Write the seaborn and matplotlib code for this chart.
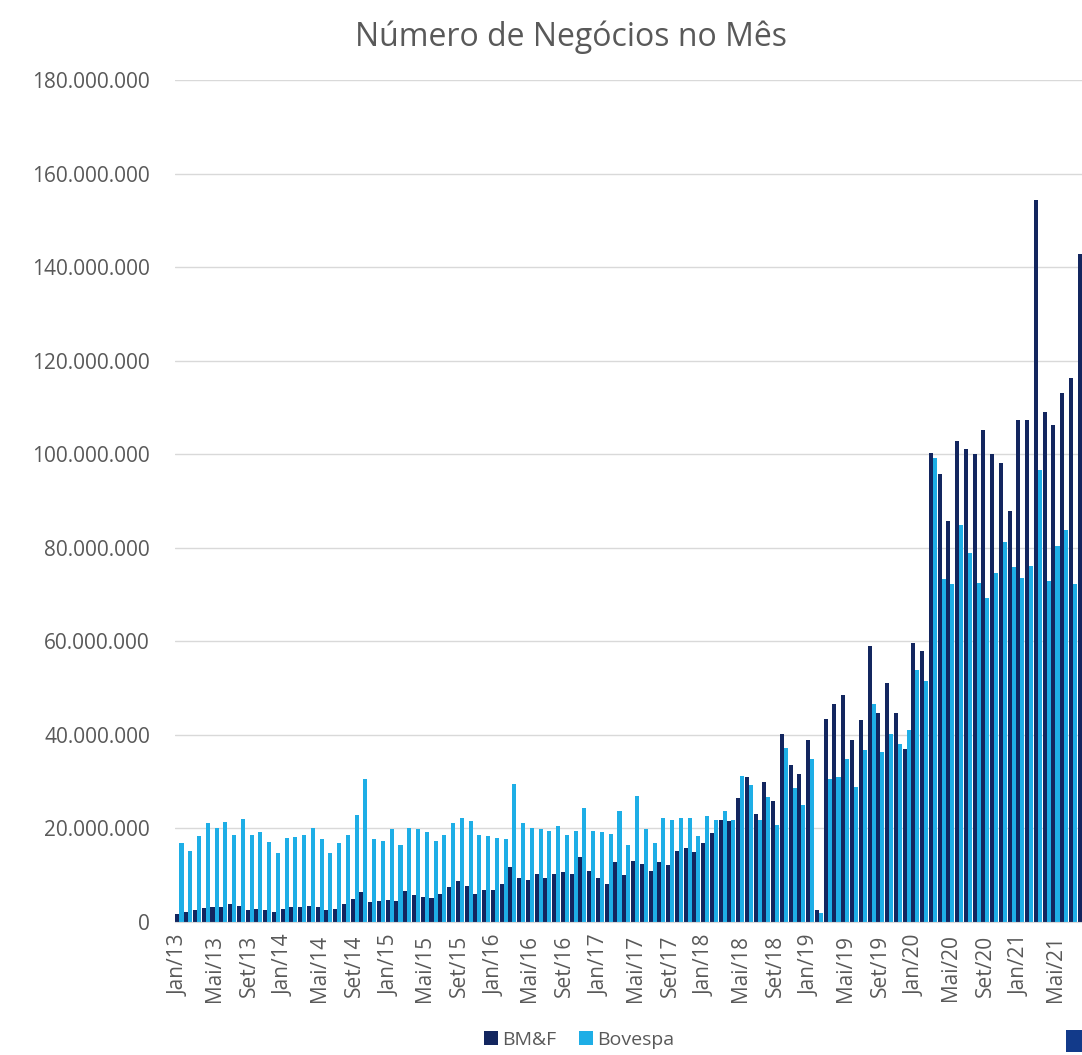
import matplotlib
matplotlib.use("Agg")
import matplotlib.pyplot as plt
from matplotlib.patches import Patch, Rectangle
from matplotlib.ticker import FuncFormatter, MultipleLocator
import seaborn as sns
import pandas as pd

# ---- data (values in millions of trades) ----
month_abbr = ["Jan", "Fev", "Mar", "Abr", "Mai", "Jun", "Jul", "Ago", "Set", "Out", "Nov", "Dez"]
years = [13, 14, 15, 16, 17, 18, 19, 20, 21]
months = [f"{m}/{y}" for y in years for m in month_abbr][:104]  # Jan/13 .. Ago/21

bmf = [1.8, 2.1, 2.6, 3.0, 3.2, 3.1, 3.8, 3.4, 2.6, 2.8, 2.6, 2.1,
       2.8, 3.2, 3.2, 3.4, 3.2, 2.6, 2.8, 3.9, 5.0, 6.4, 4.3, 4.4,
       4.8, 4.4, 6.6, 5.7, 5.3, 5.1, 5.9, 7.5, 8.7, 7.8, 5.9, 6.9,
       6.9, 8.2, 11.8, 9.4, 9.0, 10.3, 9.4, 10.3, 10.7, 10.3, 13.9, 10.8,
       9.4, 8.2, 12.8, 10.0, 13.0, 12.5, 11.0, 12.9, 12.2, 15.2, 15.9, 15.0,
       16.8, 19.1, 21.9, 21.6, 26.6, 30.9, 23.0, 30.0, 25.9, 40.1, 33.5, 31.6,
       38.9, 2.6, 43.4, 46.5, 48.6, 38.9, 43.1, 58.9, 44.7, 51.0, 44.7, 37.0,
       59.6, 58.0, 100.3, 95.7, 85.7, 102.9, 101.1, 100.0, 105.1, 100.0, 98.1, 87.9,
       107.4, 107.4, 154.3, 109.0, 106.2, 113.0, 116.4, 142.9]

bovespa = [16.8, 15.2, 18.4, 21.1, 20.0, 21.4, 18.6, 22.1, 18.6, 19.2, 17.2, 14.7,
           17.9, 18.1, 18.6, 20.0, 17.7, 14.7, 16.8, 18.6, 22.9, 30.5, 17.7, 17.4,
           19.8, 16.5, 20.2, 19.8, 19.3, 17.3, 18.6, 21.1, 22.2, 21.6, 18.6, 18.4,
           17.9, 17.7, 29.6, 21.1, 20.0, 19.8, 19.4, 20.5, 18.6, 19.4, 24.3, 19.4,
           19.3, 18.8, 23.8, 16.5, 26.9, 19.8, 16.8, 22.3, 21.9, 22.2, 22.2, 18.4,
           22.7, 21.8, 23.7, 21.9, 31.2, 29.3, 21.9, 26.8, 20.7, 37.1, 28.6, 25.0,
           34.8, 2.0, 30.5, 31.0, 34.8, 28.9, 36.7, 46.7, 36.4, 40.2, 38.1, 41.0,
           53.9, 51.5, 99.2, 73.3, 72.3, 84.9, 78.8, 72.5, 69.3, 74.7, 81.2, 75.8,
           73.6, 76.1, 96.6, 72.8, 80.4, 83.7, 72.2, 80.0]

series_names = ["BM&F", "Bovespa"]
colors = ["#13265f", "#1eaee6"]
title = "Número de Negócios no Mês"

df = pd.DataFrame({
    "mes": months * 2,
    "serie": [series_names[0]] * len(months) + [series_names[1]] * len(months),
    "valor": [v * 1e6 for v in bmf] + [v * 1e6 for v in bovespa],
})

# ---- figure ----
W, H = 1082, 1055
fig = plt.figure(figsize=(W / 100, H / 100), dpi=100)
sns.set_style("white")
plt.rcParams["font.family"] = ["Open Sans", "DejaVu Sans"]

left_px, bottom_px, top_px = 175.1, 922, 80
ax = fig.add_axes([left_px / W, (H - bottom_px) / H, (W - left_px) / W, (bottom_px - top_px) / H])

sns.barplot(data=df, x="mes", y="valor", hue="serie", order=months,
            hue_order=series_names, palette=colors, saturation=1,
            width=0.92, ax=ax, legend=False, errorbar=None, linewidth=0)

gray_txt = "#595959"
ax.set_ylim(0, 180e6)
ax.set_xlim(-0.5, (W - 179.5) / 8.76)
ax.yaxis.set_major_locator(MultipleLocator(20e6))
ax.yaxis.set_major_formatter(FuncFormatter(lambda v, p: f"{int(round(v)):,}".replace(",", ".")))
ax.grid(axis="y", color="#d9d9d9", linewidth=1)
ax.set_axisbelow(True)
for s in ["left", "right", "top"]:
    ax.spines[s].set_visible(False)
ax.spines["bottom"].set_color("#d9d9d9")

ax.set_xticks(range(0, len(months), 4))
ax.set_xticklabels(months[::4], rotation=90)
ax.tick_params(axis="x", length=0, pad=9, labelsize=15, labelcolor=gray_txt)
ax.tick_params(axis="y", length=0, pad=18, labelsize=15, labelcolor=gray_txt)
ax.set_xlabel("")
ax.set_ylabel("")

fig.text(571 / W, 1 - 37 / H, title, ha="center", va="center", fontsize=23, color=gray_txt)

handles = [Patch(facecolor=c, edgecolor="none", label=n) for c, n in zip(colors, series_names)]
fig.legend(handles=handles, loc="center", bbox_to_anchor=(579 / W, 1 - 1040 / H), ncol=2,
           frameon=False, fontsize=14, labelcolor=gray_txt, handlelength=0.7, handleheight=0.7,
           handletextpad=0.2, columnspacing=1.2)

# cut-off legend marker at the bottom-right edge
fig.patches.append(Rectangle((1066 / W, 3 / H), 20 / W, 22 / H, transform=fig.transFigure,
                             facecolor="#123a8a", edgecolor="none"))

fig.savefig("out.png", dpi=100)
